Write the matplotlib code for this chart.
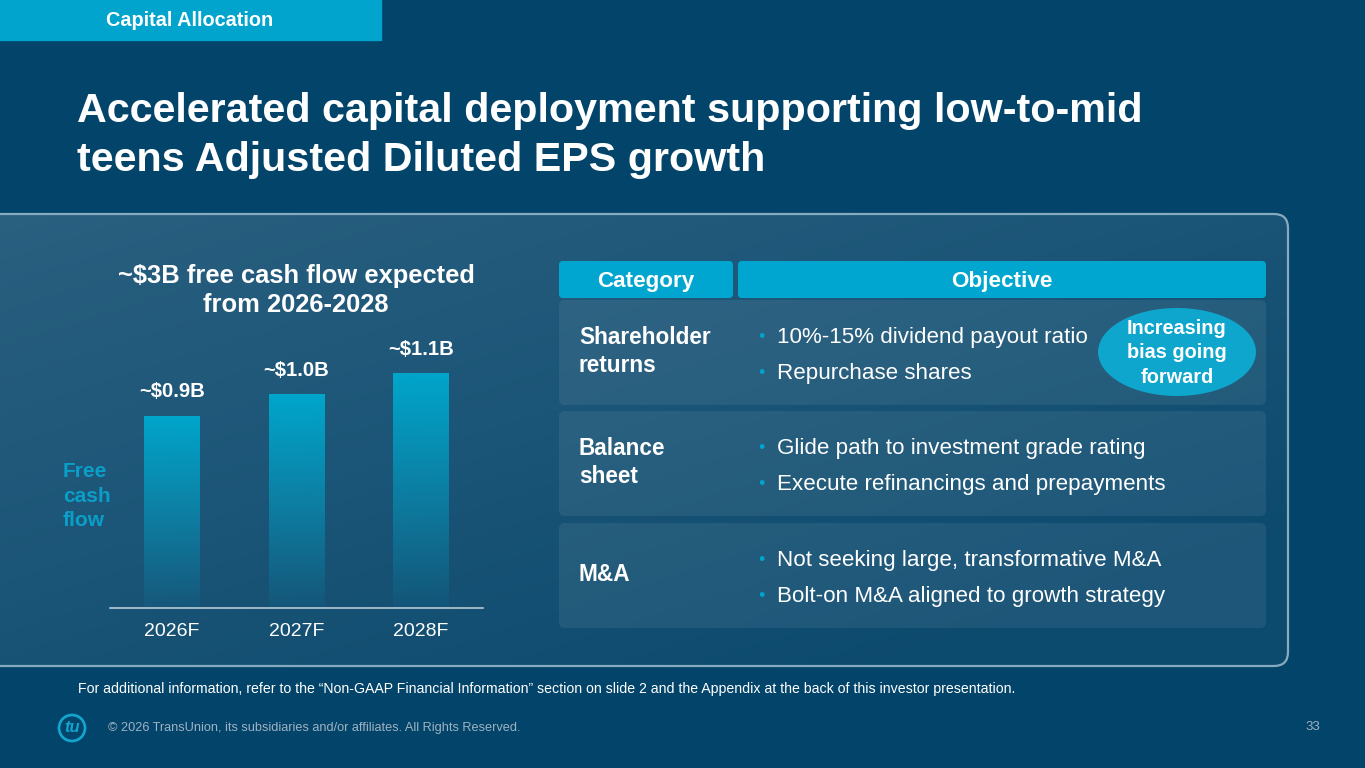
import numpy as np
import matplotlib
matplotlib.use('Agg')
import matplotlib.pyplot as plt
from matplotlib.patches import FancyBboxPatch, Rectangle, Ellipse, Circle
import matplotlib.colors as mcolors

plt.rcParams['font.family'] = ['Liberation Sans', 'DejaVu Sans']

# ---------------- data ----------------
years = ['2026F', '2027F', '2028F']
fcf = [0.9, 1.0, 1.1]
fcf_labels = ['~$0.9B', '~$1.0B', '~$1.1B']
header = ['Category', 'Objective']
categories = ['Shareholder\nreturns', 'Balance\nsheet', 'M&A']
objectives = [
    ['10%-15% dividend payout ratio', 'Repurchase shares'],
    ['Glide path to investment grade rating', 'Execute refinancings and prepayments'],
    ['Not seeking large, transformative M&A', 'Bolt-on M&A aligned to growth strategy'],
]
bubble_text = 'Increasing\nbias going\nforward'
section_tag = 'Capital Allocation'
title_lines = ['Accelerated capital deployment supporting low-to-mid',
               'teens Adjusted Diluted EPS growth']
chart_title = ['~$3B free cash flow expected', 'from 2026-2028']
y_label = 'Free\ncash\nflow'
footnote = ('For additional information, refer to the \u201cNon-GAAP Financial Information\u201d '
            'section on slide 2 and the Appendix at the back of this investor presentation.')
copyright_txt = '\u00a9 2026 TransUnion, its subsidiaries and/or affiliates. All Rights Reserved.'
page_no = '33'

# ---------------- colours ----------------
BG = '#03446a'
TEAL = '#00a4cc'
TEAL_TXT = '#0a9fc9'
GREY = '#9fb2c2'

W, H = 1365, 768
fig = plt.figure(figsize=(W / 100, H / 100), dpi=100)
bg = fig.add_axes([0, 0, 1, 1])
bg.set_xlim(0, W)
bg.set_ylim(H, 0)
bg.axis('off')
bg.add_patch(Rectangle((0, 0), W, H, color=BG, zorder=0))

# section tag
bg.add_patch(Rectangle((0, 0), 381, 40, color=TEAL, zorder=1))
bg.text(190, 21, section_tag, color='white', fontsize=14.3, weight='bold',
        ha='center', va='center', zorder=2)

# title
for i, t in enumerate(title_lines):
    bg.text(77, 122 + i * 49, t, color='white', fontsize=29.7, weight='bold',
            ha='left', va='baseline', zorder=2)

# panel with gradient
panel = FancyBboxPatch((-20, 214), 1308, 452, boxstyle='round,pad=0,rounding_size=14',
                       facecolor='none', edgecolor='#86aac0', lw=1.6, zorder=3)
bg.add_patch(panel)
gx, gy = np.meshgrid(np.linspace(0, 1, 300), np.linspace(0, 1, 120))
tg = np.clip(0.55 * gx + 0.6 * gy, 0, 1)
c0 = np.array(mcolors.to_rgb('#2a6080'))
c1 = np.array(mcolors.to_rgb('#0c4a6e'))
img = c0[None, None, :] * (1 - tg[..., None]) + c1[None, None, :] * tg[..., None]
im = bg.imshow(img, extent=(-20, 1288, 666, 214), origin='upper', aspect='auto', zorder=2)
im.set_clip_path(panel)
bg.set_xlim(0, W)
bg.set_ylim(H, 0)

# chart title
for i, t in enumerate(chart_title):
    bg.text(296, 276 + i * 29, t, color='white', fontsize=18.4, weight='bold',
            ha='center', va='center', zorder=5)
bg.text(63, 496, y_label, color=TEAL_TXT, fontsize=15, weight='bold',
        ha='left', va='center', multialignment='left', linespacing=1.37, zorder=5)

# table
hdr_x = [(559, 733), (738, 1266)]
for (x0, x1), h in zip(hdr_x, header):
    bg.add_patch(FancyBboxPatch((x0, 261), x1 - x0, 37, boxstyle='round,pad=0,rounding_size=4',
                                facecolor='#00a6cf', edgecolor='none', zorder=4))
    bg.text((x0 + x1) / 2, 281, h, color='white', fontsize=16.2, weight='bold',
            ha='center', va='center', zorder=5)

row_tops = [300, 411, 523]
row_h = 105
for top, cat, objs in zip(row_tops, categories, objectives):
    bg.add_patch(FancyBboxPatch((559, top), 707, row_h, boxstyle='round,pad=0,rounding_size=6',
                                facecolor='white', alpha=0.07, edgecolor='none', zorder=4))
    cy = top + row_h / 2
    bg.text(579, cy - 1, cat, color='white', fontsize=16.3, weight='bold',
            ha='left', va='center', multialignment='left', linespacing=1.3, zorder=5)
    for j, o in enumerate(objs):
        yy = cy - 17 + j * 36 + 2
        bg.text(758, yy, '\u2022', color=TEAL, fontsize=13, ha='left', va='center', zorder=5)
        bg.text(777, yy, o, color='white', fontsize=16.1, ha='left', va='center', zorder=5)

bg.add_patch(Ellipse((1177, 352), 158, 88, facecolor='#0ea6cc', edgecolor='none', zorder=5))
bg.text(1177, 353, bubble_text, color='white', fontsize=14.3, weight='bold',
        ha='center', va='center', linespacing=1.36, zorder=6)

# footer
bg.text(78, 689, footnote, color='white', fontsize=10.2, ha='left', va='center', zorder=5)
bg.text(108, 728, copyright_txt, color=GREY, fontsize=9.2, ha='left', va='center', zorder=5)
bg.text(1320, 727, page_no, color=GREY, fontsize=9.5, ha='right', va='center', zorder=5)
bg.add_patch(Circle((72, 728), 13, facecolor='none', edgecolor='#14a3cc', lw=2, zorder=5))
bg.text(72, 727, 'tu', color='#14a3cc', fontsize=12, style='italic', weight='bold',
        ha='center', va='center', zorder=6)

# ---------------- bar chart ----------------
ax = fig.add_axes([110 / W, (H - 608) / H, 373 / W, 278 / H])
ax.patch.set_alpha(0)
x = np.arange(len(years))
bars = ax.bar(x, fcf, width=0.45, color='none', edgecolor='none', zorder=2)
top_rgb = np.array(mcolors.to_rgb('#00a6cc'))
n = 256
grad = np.zeros((n, 1, 4))
grad[..., :3] = top_rgb
grad[:, 0, 3] = np.linspace(1.0, 0.06, n)
for b in bars:
    bim = ax.imshow(grad, extent=(b.get_x(), b.get_x() + b.get_width(), 0, b.get_height()),
                    origin='upper', aspect='auto', zorder=2)
    bim.set_clip_path(b)
for xi, v, lab in zip(x, fcf, fcf_labels):
    ax.annotate(lab, (xi, v), xytext=(0, 13), textcoords='offset points', ha='center',
                va='baseline', color='white', fontsize=14.6, weight='bold')
ax.set_xlim(-0.5, 2.5)
ax.set_ylim(0, 1.3)
ax.set_xticks(x)
ax.set_xticklabels(years, color='white', fontsize=14)
ax.tick_params(axis='x', length=0, pad=11)
ax.set_yticks([])
for s in ['top', 'right', 'left']:
    ax.spines[s].set_visible(False)
ax.spines['bottom'].set_color('#b8cad6')
ax.spines['bottom'].set_linewidth(1.2)

fig.savefig('out.png', dpi=100)
